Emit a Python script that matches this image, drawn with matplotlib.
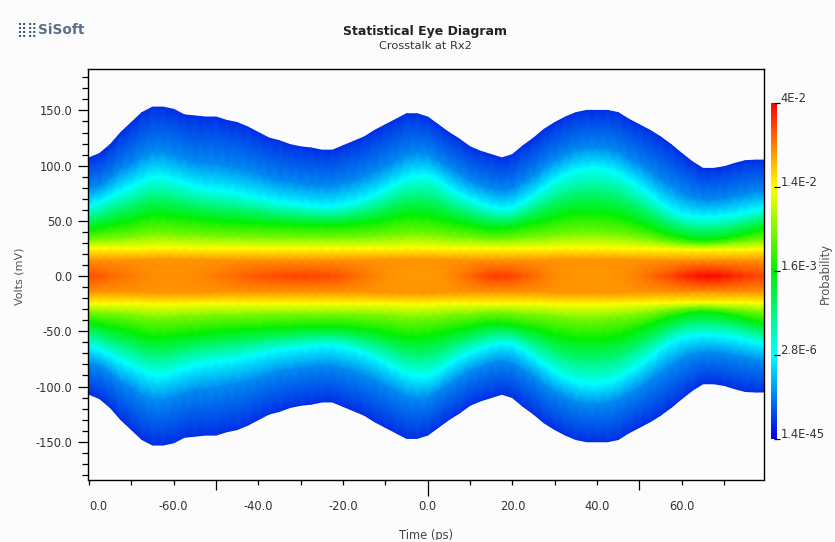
import numpy as np
import matplotlib
matplotlib.use('Agg')
import matplotlib.pyplot as plt
from matplotlib.colors import LinearSegmentedColormap
from matplotlib.transforms import ScaledTranslation

W, H = 835, 542
plt.rcParams['font.family'] = ['DejaVu Sans']

# time knots (ps), read every 2.5 ps
times = [-80, -77.5, -75, -72.5, -70, -67.5, -65, -62.5, -60, -57.5, -55, -52.5, -50, -47.5, -45, -42.5,
         -40, -37.5, -35, -32.5, -30, -27.5, -25, -22.5, -20, -17.5, -15, -12.5, -10, -7.5, -5, -2.5,
         0, 2.5, 5, 7.5, 10, 12.5, 15, 17.5, 20, 22.5, 25, 27.5, 30, 32.5, 35, 37.5,
         40, 42.5, 45, 47.5, 50, 52.5, 55, 57.5, 60, 62.5, 65, 67.5, 70, 72.5, 75, 77.5, 80]

# height (mV) of each colour level above 0, upper half of the eye
v_edge = [107, 111, 119, 130, 139, 148, 153, 153, 151, 146, 145, 144, 144, 141, 139, 135,
          130, 125, 122.5, 119, 117, 116, 114, 114, 118, 122, 126, 132, 137, 142, 147, 147,
          144, 137, 130, 124, 117, 113, 110, 107, 110, 118, 125, 133, 139, 144, 148, 150,
          150, 150, 148, 142, 137, 132, 126, 119, 111, 103.5, 97.5, 97.5, 99, 102, 104.5, 105, 105]
v_blue = [79, 82, 88, 96, 101, 108, 112, 112, 109, 106, 103, 102, 101, 99, 97, 95,
          92, 89, 86, 85, 83, 82, 81, 81, 84, 86, 90, 94, 99, 104, 109, 111,
          110, 104, 98, 92, 86, 82, 79, 77, 79, 85, 91, 99, 105, 110, 114, 116,
          116, 115, 112, 106, 101, 94, 87, 81, 75, 71, 69, 69, 70, 72, 74, 76, 77]
v_cyan = [64, 67, 72, 77, 81, 86, 90, 90, 87, 84, 81, 79, 78, 77, 75, 73,
          71, 69, 67, 66, 65, 64, 63, 63, 65, 67, 70, 74, 79, 84, 89, 91,
          91, 87, 80, 74, 70, 66, 63, 61, 62, 67, 73, 80, 87, 92, 96, 97.5,
          98, 96, 93, 87, 81, 74, 66, 60, 56, 54, 53.5, 53.5, 54.5, 56, 58, 60, 62]
v_teal = [53, 55.5, 59, 62.5, 65.5, 69.5, 72.5, 72.5, 70.5, 68.5, 66.5, 65, 64, 63, 62, 60.5,
          59.5, 58, 57, 56.5, 55.5, 55, 54.5, 54.5, 55.5, 57, 59, 61.5, 65, 68.5, 72, 73,
          72.5, 69.5, 65, 61, 58, 55, 53, 52, 53, 56.5, 60.5, 65, 70, 73.5, 76.5, 77,
          77.5, 76, 73.5, 69, 64, 59, 53, 48.5, 45.5, 43.5, 43, 43.5, 44, 46, 48, 50.5, 53]
v_green = [42, 44, 46, 48, 50, 53, 55, 55, 54, 53, 52, 51, 50, 49, 49, 48,
           48, 47, 47, 47, 46, 46, 46, 46, 46, 47, 48, 49, 51, 53, 55, 55,
           54, 52, 50, 48, 46, 44, 43, 43, 44, 46, 48, 50, 53, 55, 57, 57,
           57, 56, 54, 51, 47, 44, 40, 37, 35, 33, 32.5, 33, 34, 36, 38, 41, 43]
v_lime = [32, 33, 33.5, 34, 35, 36, 37, 37, 36.5, 36, 36, 35.5, 35, 35, 35, 34.5,
          34.5, 34, 34, 34, 34, 34, 34, 34, 34, 34, 34.5, 35, 35.5, 36, 37, 37,
          36.5, 36, 35, 34, 34, 33, 32.5, 32.5, 33, 34, 34.5, 35, 36, 37, 37.5, 37.5,
          37.5, 37, 36.5, 35.5, 34, 33, 31, 30, 29, 28.5, 28, 28.5, 29, 30, 30.5, 31.5, 32]
v_yellow = [25, 25, 25, 25, 25, 25, 25.5, 25.5, 25.5, 25.5, 25, 25, 25, 25, 25, 25,
            25, 25, 25, 25, 25, 25, 25, 25, 25, 25, 25, 25, 25, 25, 25.5, 25.5,
            25.5, 25, 25, 25, 25, 25, 25, 25, 25, 25, 25, 25, 25.5, 25.5, 25.5, 25.5,
            25.5, 25.5, 25, 25, 25, 24.5, 24.5, 24.5, 24, 24, 24, 24, 24, 24, 24, 24.5, 24.5]
v_orange = [14.5, 14.5, 14.5, 14.5, 14.5, 14.5, 15, 15, 15, 15, 15, 15, 14.5, 14.5, 14.5, 14.5,
            14.5, 14.5, 14.5, 14.5, 14.5, 14.5, 14.5, 14.5, 14.5, 14.5, 14.5, 15, 15, 15, 15, 15,
            15, 15, 14.5, 14.5, 14.5, 14.5, 14.5, 14.5, 14.5, 14.5, 14.5, 14.5, 15, 15, 15, 15,
            15, 15, 15, 14.5, 14.5, 14.5, 14.5, 14.5, 14.5, 14.5, 14.5, 14.5, 14.5, 14.5, 14.5, 14.5, 14.5]

# colour level on the scale (0 blue .. 4 red) along the middle of the eye
center_level = [3.7, 3.66, 3.6, 3.56, 3.52, 3.48, 3.45, 3.44, 3.43, 3.44, 3.46, 3.48, 3.52, 3.56, 3.6, 3.64,
                3.67, 3.7, 3.72, 3.73, 3.74, 3.73, 3.72, 3.7, 3.66, 3.6, 3.54, 3.48, 3.45, 3.42, 3.4, 3.4,
                3.4, 3.42, 3.46, 3.52, 3.6, 3.7, 3.76, 3.77, 3.74, 3.67, 3.6, 3.52, 3.46, 3.43, 3.42, 3.41,
                3.4, 3.41, 3.43, 3.46, 3.52, 3.58, 3.66, 3.74, 3.84, 3.92, 3.98, 3.97, 3.93, 3.86, 3.8, 3.75, 3.72]

band_levels = [0.18, 0.55, 1.0, 1.5, 2.0, 2.5, 3.0, 3.42]
bar_colors = ['#0000e0', '#00ffff', '#00f000', '#ffff00', '#ff0000']
bar_labels = ['1.4E-45', '2.8E-6', '1.6E-3', '1.4E-2', '4E-2']

fig = plt.figure(figsize=(W / 100, H / 100), dpi=100, facecolor='#fcfcfc')
ax = fig.add_axes([88 / W, 1 - 479.5 / H, 675.5 / W, 410.5 / H], facecolor='#fcfcfc')
cmap = LinearSegmentedColormap.from_list('eye', bar_colors, N=512)

upper = [v_edge, v_blue, v_cyan, v_teal, v_green, v_lime, v_yellow, v_orange]
rows = [np.array(r) for r in upper] + [np.zeros(len(times))] + [-np.array(r) for r in upper[::-1]]
lev = [np.full(len(times), b) for b in band_levels]
levels = lev + [np.array(center_level)] + lev[::-1]
T = np.tile(times, (len(rows), 1))
ax.pcolormesh(T, np.array(rows), np.array(levels), shading='gouraud', cmap=cmap, vmin=0, vmax=4,
              rasterized=True)

ax.set_xlim(-80.24, 79.3)
ax.set_ylim(-184.2, 187.5)

# x axis: ticks every 10 ps, the labels start over at the left end
xt = np.arange(-80, 80, 10)
ax.set_xticks(xt)
ax.set_xticklabels(['0.0' if t == -80 else ('%.1f' % t if t % 20 == 0 else '') for t in xt])
ax.tick_params(axis='x', length=3.6, width=0.9, pad=11, labelsize=8.3, labelcolor='#333333')
for t, tick in zip(xt, ax.xaxis.get_major_ticks()):
    if t in (-50, 50):
        tick.tick1line.set_markersize(7.2)
    if t == 0:
        tick.tick1line.set_markersize(11.5)
ax.get_xticklabels()[0].set_ha('left')

# y axis
ax.set_yticks(np.arange(-150, 151, 50))
ax.set_yticklabels(['%.1f' % v for v in np.arange(-150, 151, 50)])
ax.set_yticks(np.arange(-180, 181, 10), minor=True)
ax.tick_params(axis='y', which='major', length=7.2, width=0.9, pad=4, labelsize=8.3, labelcolor='#333333')
ax.tick_params(axis='y', which='minor', length=4, width=0.9)
for s in ax.spines.values():
    s.set_linewidth(1.0)

# colour bar
cax = fig.add_axes([770.5 / W, 1 - 439 / H, 6.5 / W, 336 / H])
sm = plt.cm.ScalarMappable(cmap=cmap, norm=plt.Normalize(0, 4))
cb = fig.colorbar(sm, cax=cax, ticks=[0, 1, 2, 3, 4])
cb.outline.set_visible(False)
cb.set_ticklabels(bar_labels)
cax.tick_params(axis='y', direction='inout', length=5, width=0.9, pad=0, labelsize=8.3, labelcolor='#333333')
for lab in cax.get_yticklabels():
    lab.set_va('bottom')
    lab.set_transform(lab.get_transform() + ScaledTranslation(0, -2 / 100, fig.dpi_scale_trans))

# texts
def px_text(x, y, s, **kw):
    return fig.text(x / W, 1 - y / H, s, ha=kw.pop('ha', 'center'), va='center', **kw)

px_text(425, 32, 'Statistical Eye Diagram', fontsize=9, fontweight='bold', color='#222222')
px_text(425, 46, 'Crosstalk at Rx2', fontsize=8.2, color='#333333')
px_text(19, 276, 'Volts (mV)', fontsize=8, rotation=90, color='#555555')
px_text(825, 273, 'Probability', fontsize=8.3, rotation=90, color='#555555')
px_text(17, 30, '\u28ff\u28ff', ha='left', fontsize=10, color='#3e556c')
px_text(38, 30, 'SiSoft', ha='left', fontsize=9.8, fontweight='bold', color='#5a7088')

# the axis title is cut by the bottom of the window
time_label = px_text(426, 535, 'Time (ps)', fontsize=8.3, color='#444444')
time_label.set_clip_path(plt.Rectangle((0, 2 / H), 1, 1, transform=fig.transFigure))
time_label.set_clip_on(True)

fig.savefig('out.png', dpi=100, facecolor=fig.get_facecolor())
